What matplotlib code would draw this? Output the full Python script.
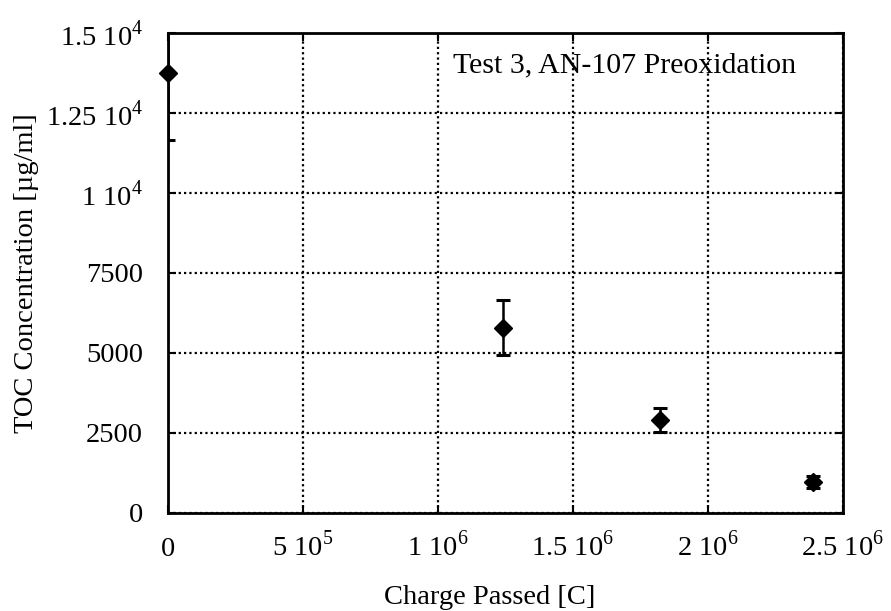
import matplotlib
matplotlib.use("Agg")
import matplotlib.pyplot as plt

# TOC vs charge passed, test 3
charge = [0.0, 1.24e6, 1.822e6, 2.39e6]
toc = [13750, 5790, 2906, 978]
toc_err = [2100, 860, 375, 190]

x_ticks = [0, 5e5, 1e6, 1.5e6, 2e6, 2.5e6]
x_labels = ["0", r"5 10$^5$", r"1 10$^6$", r"1.5 10$^6$", r"2 10$^6$", r"2.5 10$^6$"]
y_ticks = [0, 2500, 5000, 7500, 10000, 12500, 15000]
y_labels = ["0", "2500", "5000", "7500", r"1 10$^4$", r"1.25 10$^4$", r"1.5 10$^4$"]

plt.rcParams['font.family'] = ['Liberation Serif', 'DejaVu Serif']
plt.rcParams['mathtext.fontset'] = 'custom'
plt.rcParams['mathtext.rm'] = 'Liberation Serif'

fs = 20.5

fig = plt.figure(figsize=(8.91, 6.11), dpi=100)
ax = fig.add_axes([0.1886, 0.1604, 0.7574, 0.7856])

# error bars are clipped to the frame, markers are not (first point sits on the axis)
ax.errorbar(charge, toc, yerr=toc_err, fmt='none', ecolor='black',
            elinewidth=1.8, capsize=5, capthick=2.2)
ax.plot(charge, toc, 'D', color='black', markersize=9, clip_on=False, zorder=5)

ax.set_xlim(0, 2.5e6)
ax.set_ylim(0, 15000)
ax.set_xticks(x_ticks)
ax.set_xticklabels(x_labels)
ax.set_yticks(y_ticks)
ax.set_yticklabels(y_labels)
ax.tick_params(direction='in', top=True, right=True, length=6, width=1.5, labelsize=fs)
ax.tick_params(axis='y', pad=18)
ax.tick_params(axis='x', pad=31)
# keep "0" on the same baseline as the labels with exponents
for lbl in ax.get_xticklabels():
    lbl.set_verticalalignment('baseline')
ax.grid(True, color='black', linestyle=(0, (1, 1.4)), linewidth=1.6)
for s in ax.spines.values():
    s.set_linewidth(2)

ax.text(0.422, 0.933, "Test 3, AN-107 Preoxidation", transform=ax.transAxes,
        ha='left', va='center', fontsize=21.5)

fig.text(490 / 891, 1 - 597 / 611, "Charge Passed [C]", ha='center', va='center', fontsize=fs)
fig.text(27 / 891, 1 - 273 / 611, "TOC Concentration [µg/ml]", ha='center', va='center',
         rotation=90, fontsize=fs)

fig.savefig("out.png", dpi=100)
